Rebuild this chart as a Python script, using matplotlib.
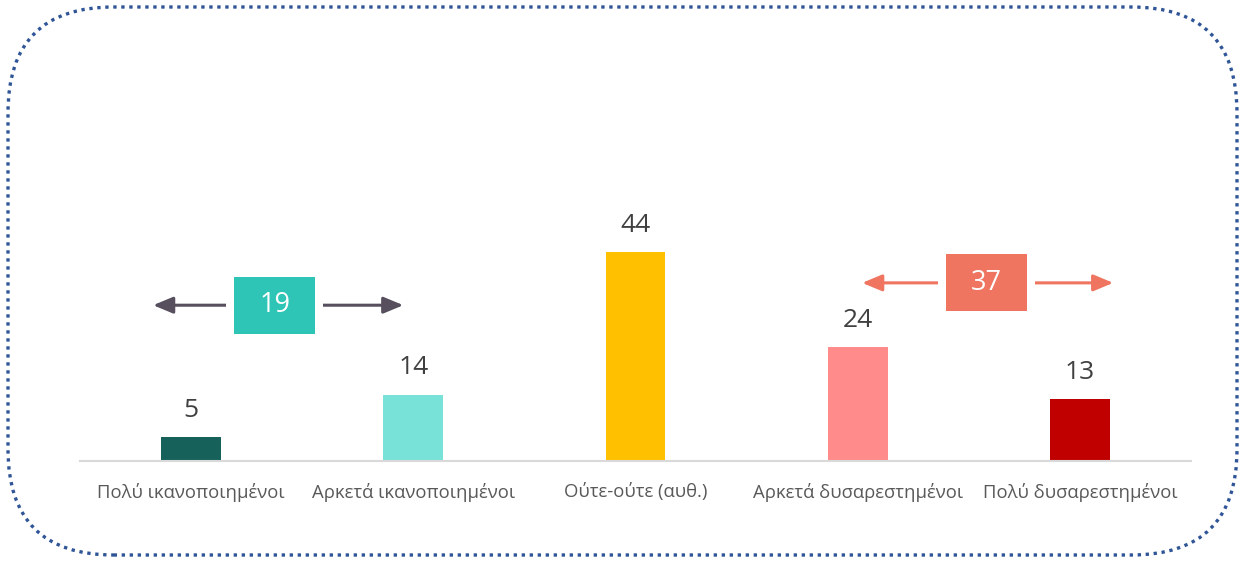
import matplotlib
matplotlib.use("Agg")
import matplotlib.pyplot as plt
from matplotlib.patches import FancyBboxPatch, Rectangle

plt.rcParams['font.family'] = ['Open Sans', 'DejaVu Sans']

categories = ["Πολύ ικανοποιημένοι", "Αρκετά ικανοποιημένοι", "Ούτε-ούτε (αυθ.)",
              "Αρκετά δυσαρεστημένοι", "Πολύ δυσαρεστημένοι"]
values = [5, 14, 44, 24, 13]
colors = ["#16625B", "#79E2D8", "#FFC000", "#FF8B8B", "#C00000"]
group_totals = [19, 37]
group_colors = ["#2EC4B6", "#EF7560"]
arrow_colors = ["#574F5E", "#EF7560"]

W, H = 1243, 563
fig = plt.figure(figsize=(W / 100, H / 100), dpi=100)

# rounded dotted border
border = FancyBboxPatch((8 / W, 8 / H), (1237 - 8) / W, (556 - 8) / H,
                        boxstyle="round,pad=0,rounding_size=0.085",
                        transform=fig.transFigure, fill=False,
                        edgecolor="#2F5597", linestyle=(0, (1, 1.4)), linewidth=2.4,
                        mutation_aspect=W / H)
fig.patches.append(border)

ax = fig.add_axes([80 / W, (H - 461) / H, (1191 - 80) / W, (461 - 40) / H])
x = list(range(len(categories)))
ax.bar(x, values, width=0.27, color=colors)
ax.set_xlim(-0.5, 4.5)
ax.set_ylim(0, (461 - 40) / 4.75)
for xi, v in zip(x, values):
    ax.text(xi, v + 3.0, str(v), ha="center", va="bottom", fontsize=19, color="#404040")

ax.set_xticks(x)
ax.set_xticklabels(categories, fontsize=13.3, color="#595959")
ax.tick_params(axis="x", length=0, pad=16)
ax.set_yticks([])
for s in ["top", "right", "left"]:
    ax.spines[s].set_visible(False)
ax.spines["bottom"].set_color("#D9D9D9")
ax.spines["bottom"].set_linewidth(1.5)

# group annotations: (arrow left, arrow right, y, box center)
groups = [(-0.171, 0.955, 32.8, 0.376), (3.02, 4.15, 37.5, 3.58)]
bw = 81 / 222
bh = 57 / 4.75
for (xl, xr, yy, xc), tot, bc, ac in zip(groups, group_totals, group_colors, arrow_colors):
    for xe in (xl, xr):
        ax.annotate("", xy=(xe, yy), xytext=(xc, yy),
                    arrowprops=dict(arrowstyle="-|>,head_length=1.2,head_width=0.5",
                                    color=ac, lw=2.2, shrinkA=0, shrinkB=0))
    ax.add_patch(Rectangle((xc - bw / 2 - 0.035, yy - bh / 2), bw + 0.07, bh,
                           facecolor="white", edgecolor="none", zorder=3))
    ax.add_patch(Rectangle((xc - bw / 2, yy - bh / 2), bw, bh,
                           facecolor=bc, edgecolor="none", zorder=4))
    ax.text(xc, yy, str(tot), ha="center", va="center", fontsize=19.5,
            color="white", zorder=5)

fig.savefig("out.png", dpi=100)
